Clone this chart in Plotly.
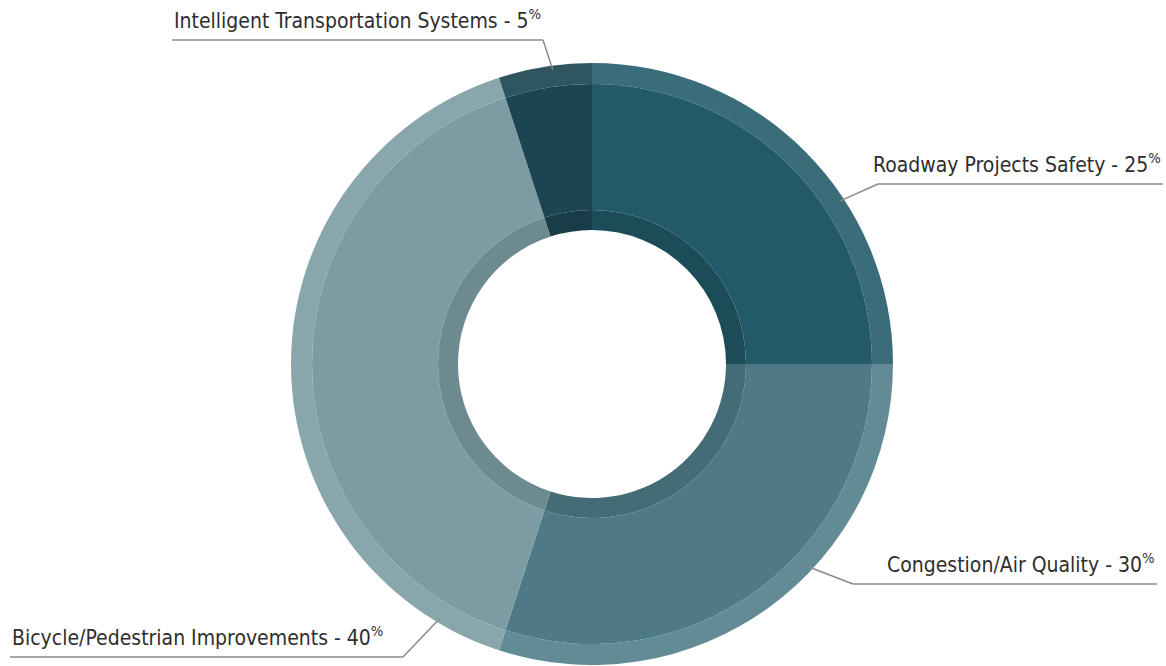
import math
import plotly.graph_objects as go

# Funding split by program category
categories = [
    "Roadway Projects Safety",
    "Congestion/Air Quality",
    "Bicycle/Pedestrian Improvements",
    "Intelligent Transportation Systems",
]
shares = [25, 30, 40, 5]

# Slice colours: main body, lighter outer rim, darker inner rim
main_colors = ["#235a69", "#4e7a87", "#7c9ba3", "#1c4451"]
outer_colors = ["#3a6c79", "#628b96", "#89a6ad", "#2f5561"]
inner_colors = ["#1d4c59", "#436c77", "#6d8a91", "#183c48"]

W, H = 1166, 666
CX, CY = 592, 364           # donut centre in pixels
R_OUT, R_MAIN, R_IN, R_HOLE = 301, 280, 154, 134


def domain(r):
    return dict(
        x=[(CX - r) / W, (CX + r) / W],
        y=[(H - CY - r) / H, (H - CY + r) / H],
    )


def ring(r, hole_r, colors):
    return go.Pie(
        labels=categories,
        values=shares,
        sort=False,
        direction="clockwise",
        rotation=0,
        hole=hole_r / r,
        domain=domain(r),
        marker=dict(colors=colors, line=dict(width=0)),
        textinfo="none",
        hoverinfo="label+percent",
        showlegend=False,
    )


fig = go.Figure()
fig.add_trace(ring(R_OUT, R_MAIN, outer_colors))
fig.add_trace(ring(R_MAIN, R_IN, main_colors))
fig.add_trace(ring(R_IN, R_HOLE, inner_colors))

# Label placement: angle (deg clockwise from top) where the leader meets the ring,
# elbow point of the leader, far end of the underline
leader_angles = [56.7, 133.1, 210.9, 352.4]
elbows = [(878, 184), (853, 584), (403, 657), (543, 40)]
line_ends = [1163, 1157, 10, 172]
R_LEADER = 297


def px(x):
    return x / W


def py(y):
    return 1 - y / H


shapes = []
annotations = []
for name, pct, ang, (ex, ey), end in zip(categories, shares, leader_angles, elbows, line_ends):
    a = math.radians(ang)
    sx = CX + R_LEADER * math.sin(a)
    sy = CY - R_LEADER * math.cos(a)
    line = dict(color="#8a8a8a", width=1.5)
    shapes.append(dict(type="line", xref="paper", yref="paper",
                       x0=px(sx), y0=py(sy), x1=px(ex), y1=py(ey), line=line))
    shapes.append(dict(type="line", xref="paper", yref="paper",
                       x0=px(ex), y0=py(ey), x1=px(end), y1=py(ey), line=line))
    right_side = end > ex
    annotations.append(dict(
        xref="paper", yref="paper",
        x=px(end), y=py(ey - 5),
        xanchor="right" if right_side else "left",
        yanchor="bottom",
        text=f"{name} - {pct}<sup>%</sup>",
        showarrow=False,
        font=dict(family="DejaVu Sans Condensed, Liberation Sans Narrow, sans-serif",
                  size=21, color="#2e2e2e"),
    ))

fig.update_layout(
    width=W, height=H,
    margin=dict(l=0, r=0, t=0, b=0),
    paper_bgcolor="white",
    plot_bgcolor="white",
    shapes=shapes,
    annotations=annotations,
)

fig.write_html("out.html")
